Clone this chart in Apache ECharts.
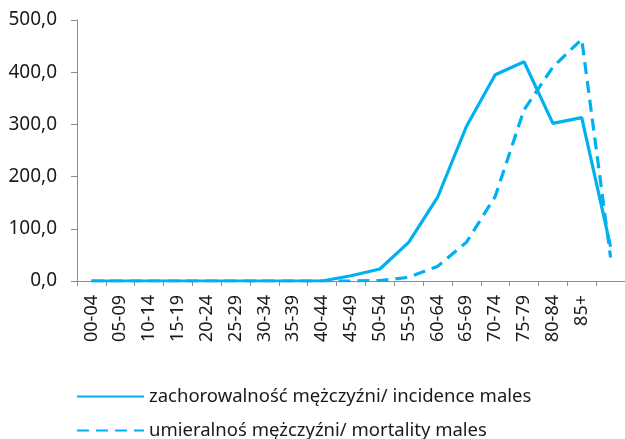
<!DOCTYPE html>
<html><head><meta charset="utf-8">
<script src="https://cdn.jsdelivr.net/npm/echarts@6/dist/echarts.min.js"></script>
<style>html,body{margin:0;padding:0;background:#fff}#c{width:625px;height:439px}</style>
</head><body><div id="c"></div>
<script>
var categories = ['00-04','05-09','10-14','15-19','20-24','25-29','30-34','35-39','40-44','45-49','50-54','55-59','60-64','65-69','70-74','75-79','80-84','85+',''];
var incidence = [0,0,0,0,0,0,0,0,0,10,23,74,160,296,395,420,302,313,66];
var mortality = [0,0,0,0,0,0,0,0,0,0,1,7,28,74,162,328,410,463,45];
var seriesNames = ['zachorowalność mężczyźni/ incidence males','umieralnoś mężczyźni/ mortality males'];
var color = '#00B0F0';
var font = 'Noto Sans';
function legendFor(name, top){
  return {orient:'horizontal',left:76,top:top,padding:0,itemWidth:67,itemHeight:14,itemGap:8,
    itemStyle:{opacity:0},
    textStyle:{fontSize:18.5,color:'#1a1a1a',fontFamily:font},
    data:[name]};
}
var chart = echarts.init(document.getElementById('c'));
chart.setOption({
  animation:false,
  textStyle:{fontFamily:font},
  grid:{left:77,top:20,width:551,height:261},
  legend:[legendFor(seriesNames[0],387),legendFor(seriesNames[1],421)],
  xAxis:{type:'category',data:categories,boundaryGap:true,
    axisLine:{lineStyle:{color:'#8c8c8c',width:1}},
    axisTick:{show:true,alignWithLabel:false,length:5,lineStyle:{color:'#8c8c8c'}},
    axisLabel:{rotate:90,fontSize:18,color:'#1a1a1a',margin:14,interval:0,fontFamily:font}},
  yAxis:{type:'value',min:0,max:500,interval:100,
    axisLine:{show:true,lineStyle:{color:'#8c8c8c'}},
    axisTick:{show:true,length:6,lineStyle:{color:'#8c8c8c'}},
    splitLine:{show:false},
    axisLabel:{fontSize:19,color:'#1a1a1a',margin:20,fontFamily:font,formatter:function(v){return v.toFixed(1).replace('.',',');}}},
  series:[
    {name:seriesNames[0],type:'line',data:incidence,symbol:'none',lineStyle:{color:color,width:3.2},itemStyle:{color:color}},
    {name:seriesNames[1],type:'line',data:mortality,symbol:'none',lineStyle:{color:color,width:3.2,type:[12,7]},itemStyle:{color:color}}
  ]
});
</script></body></html>
